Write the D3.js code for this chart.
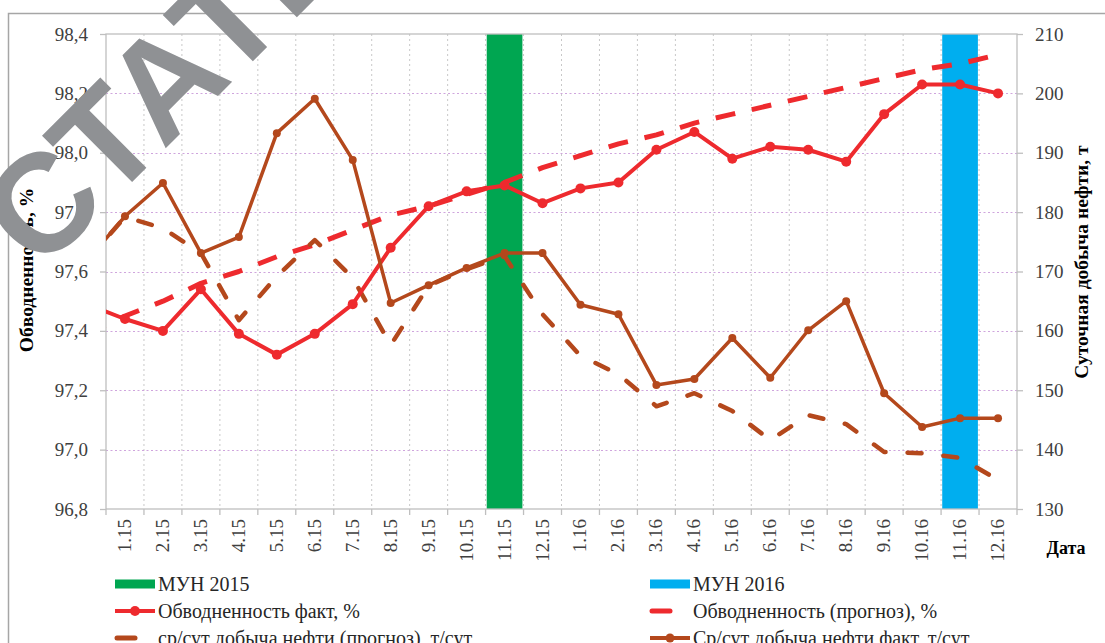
<!DOCTYPE html>
<html>
<head>
<meta charset="utf-8">
<script src="https://cdn.jsdelivr.net/npm/d3@7/dist/d3.min.js"></script>
<style>
  html, body { margin: 0; padding: 0; background: #fff; }
  svg { display: block; }
</style>
</head>
<body>
<svg id="chart" width="1105" height="643"></svg>
<script>
// ---------------- DATA ----------------
const categories = ["1.15","2.15","3.15","4.15","5.15","6.15","7.15","8.15","9.15","10.15","11.15","12.15",
                    "1.16","2.16","3.16","4.16","5.16","6.16","7.16","8.16","9.16","10.16","11.16","12.16"];
// value of the month before the first category (line runs in from the left edge)
const leadCategory = "12.14";

const leftTicks = [96.8, 97.0, 97.2, 97.4, 97.6, 97.8, 98.0, 98.2, 98.4];
const rightTicks = [130, 140, 150, 160, 170, 180, 190, 200, 210];

// МУН bars (secondary axis, full height)
const mun2015 = [null,null,null,null,null,null,null,null,null,null,210,null,
                 null,null,null,null,null,null,null,null,null,null,null,null];
const mun2016 = [null,null,null,null,null,null,null,null,null,null,null,null,
                 null,null,null,null,null,null,null,null,null,null,210,null];

// first value of each line series belongs to leadCategory
const waterFact = [97.49, 97.44, 97.40, 97.54, 97.39, 97.32, 97.39, 97.49, 97.68, 97.82, 97.87, 97.89, 97.83,
                   97.88, 97.90, 98.01, 98.07, 97.98, 98.02, 98.01, 97.97, 98.13, 98.23, 98.23, 98.20];
const waterForecast = [97.39, 97.45, 97.50, 97.56, 97.60, 97.65, 97.69, 97.74, 97.79, 97.82, 97.86, 97.90, 97.95,
                       97.99, 98.03, 98.06, 98.10, 98.13, 98.16, 98.19, 98.22, 98.25, 98.28, 98.30, 98.33];
const oilForecast = [171.8, 179.2, 177.3, 173.1, 161.8, 169.2, 175.3, 168.9, 157.6, 167.6, 170.4, 172.6, 162.8,
                     155.8, 152.7, 147.3, 149.5, 146.5, 141.6, 145.8, 144.3, 139.6, 139.4, 138.6, 134.9];
const oilFact = [171.8, 179.3, 184.9, 173.1, 175.8, 193.3, 199.1, 188.8, 164.7, 167.7, 170.6, 173.1, 173.1,
                 164.4, 162.8, 150.9, 151.9, 158.8, 152.1, 160.1, 165.0, 149.5, 143.8, 145.3, 145.3];

const legendItems = ["МУН 2015", "МУН 2016", "Обводненность факт, %", "Обводненность (прогноз), %",
                     "ср/сут  добыча нефти (прогноз), т/сут", "Ср/сут  добыча нефти факт, т/сут"];
const leftTitle = "Обводненность, %";
const rightTitle = "Суточная добыча нефти, т";
const xTitle = "Дата";
const watermark = "СТАТЬЯ";

// ---------------- STYLE ----------------
const C = {
  red: "#EE2A2E", brown: "#B4481C", green: "#00A651", blue: "#00AEEF",
  axis: "#BFBFBF", vgrid: "#C8C8C8", hgrid: "#CFA5DD", text: "#404040", mark: "#8F9194"
};
const plot = { left: 106, right: 1017, top: 34, bottom: 509 };
const SERIF = '"Liberation Serif", "Times New Roman", Tinos, "DejaVu Serif", serif';

const svg = d3.select("#chart");

// outer chart border
svg.append("rect").attr("x", 8.5).attr("y", 13.5).attr("width", 1200).attr("height", 700)
  .attr("fill", "none").attr("stroke", "#A6A6A6").attr("stroke-width", 1.5);

// ---------------- SCALES ----------------
const x = d3.scaleBand().domain(categories).range([plot.left, plot.right]).paddingInner(0).paddingOuter(0);
const step = x.step();
const cx = c => c === leadCategory ? x(categories[0]) - step / 2 : x(c) + step / 2;
const yL = d3.scaleLinear().domain([96.8, 98.4]).range([plot.bottom, plot.top]);
const yR = d3.scaleLinear().domain([130, 210]).range([plot.bottom, plot.top]);
const lineCats = [leadCategory, ...categories];

svg.append("clipPath").attr("id", "plotclip").append("rect")
  .attr("x", plot.left).attr("y", plot.top - 10).attr("width", plot.right - plot.left).attr("height", plot.bottom - plot.top + 20);

// ---------------- GRID ----------------
const grid = svg.append("g");
grid.selectAll("line.v").data(categories.slice(1)).join("line")
  .attr("x1", d => x(d)).attr("x2", d => x(d)).attr("y1", plot.top).attr("y2", plot.bottom)
  .attr("stroke", C.vgrid).attr("stroke-width", 1).attr("stroke-dasharray", "2,3");
grid.selectAll("line.h").data(leftTicks.slice(1, -1)).join("line")
  .attr("x1", plot.left).attr("x2", plot.right).attr("y1", d => Math.round(yL(d)) + 0.5).attr("y2", d => Math.round(yL(d)) + 0.5)
  .attr("stroke", C.hgrid).attr("stroke-width", 1.2).attr("stroke-dasharray", "2,2.5");

// ---------------- BARS ----------------
const barW = step * 0.94;
function bars(vals, color) {
  svg.append("g").selectAll("rect").data(categories.map((c, i) => ({ c, v: vals[i] })).filter(d => d.v != null))
    .join("rect")
    .attr("x", d => x(d.c) + (step - barW) / 2).attr("width", barW)
    .attr("y", d => yR(d.v)).attr("height", d => yR(130) - yR(d.v))
    .attr("fill", color);
}
bars(mun2015, C.green);
bars(mun2016, C.blue);

// ---------------- AXES ----------------
svg.append("rect").attr("x", plot.left).attr("y", plot.top).attr("width", plot.right - plot.left).attr("height", plot.bottom - plot.top)
  .attr("fill", "none").attr("stroke", C.axis).attr("stroke-width", 1.3);

const leftAxis = d3.axisLeft(yL).tickValues(leftTicks).tickSize(6).tickPadding(12)
  .tickFormat(d => d3.format(".1f")(d).replace(".", ","));
const gl = svg.append("g").attr("transform", `translate(${plot.left},0)`).call(leftAxis);
gl.select(".domain").remove();
gl.selectAll(".tick line").attr("stroke", C.axis).attr("stroke-width", 1.3);
gl.selectAll(".tick text").style("font-family", SERIF).style("font-size", "19px").attr("fill", C.text);

const rightAxis = d3.axisRight(yR).tickValues(rightTicks).tickSize(6).tickPadding(12).tickFormat(d3.format("d"));
const gr = svg.append("g").attr("transform", `translate(${plot.right},0)`).call(rightAxis);
gr.select(".domain").remove();
gr.selectAll(".tick line").attr("stroke", C.axis).attr("stroke-width", 1.3);
gr.selectAll(".tick text").style("font-family", SERIF).style("font-size", "19px").attr("fill", C.text);

// x ticks at band boundaries
const bounds = [...categories.map(c => x(c)), plot.right];
svg.append("g").selectAll("line").data(bounds).join("line")
  .attr("x1", d => d).attr("x2", d => d).attr("y1", plot.bottom).attr("y2", plot.bottom + 6)
  .attr("stroke", C.axis).attr("stroke-width", 1.3);
svg.append("g").selectAll("text").data(categories).join("text")
  .attr("transform", d => `translate(${x(d) + step / 2 + 6},${plot.bottom + 10}) rotate(-90)`)
  .attr("text-anchor", "end")
  .style("font-family", SERIF).style("font-size", "19px").attr("fill", C.text)
  .text(d => d);

// axis titles
function title(t, tr, anchor) {
  return svg.append("text").attr("transform", tr).attr("text-anchor", anchor)
    .style("font-family", SERIF).style("font-weight", "bold").style("font-size", "19.5px").attr("fill", "#000").text(t);
}
title(leftTitle, "translate(33,270) rotate(-90)", "middle");
title(rightTitle, "translate(1088,262) rotate(-90)", "middle");
svg.append("text").attr("transform", "translate(1066,554)").attr("text-anchor", "middle")
  .style("font-family", SERIF).style("font-weight", "bold").style("font-size", "18px").attr("fill", "#000").text(xTitle);

// ---------------- LINES ----------------
const linesG = svg.append("g").attr("clip-path", "url(#plotclip)");
function drawLine(vals, yScale, color, width, dash, cap, markerR) {
  const pts = lineCats.map((c, i) => [cx(c), yScale(vals[i])]);
  linesG.append("path").attr("d", d3.line()(pts))
    .attr("fill", "none").attr("stroke", color).attr("stroke-width", width)
    .attr("stroke-dasharray", dash).attr("stroke-linecap", cap).attr("stroke-linejoin", "round");
  if (markerR) {
    linesG.append("g").selectAll("circle").data(pts.slice(1)).join("circle")
      .attr("cx", d => d[0]).attr("cy", d => d[1]).attr("r", markerR).attr("fill", color);
  }
}
drawLine(waterForecast, yL, C.red, 5, "20,17", "butt", 0);
drawLine(oilForecast, yR, C.brown, 4.5, "14,22", "round", 0);
drawLine(waterFact, yL, C.red, 4, null, "round", 5);
drawLine(oilFact, yR, C.brown, 3.5, null, "round", 4);

// ---------------- LEGEND ----------------
const lg = svg.append("g");
const cols = [115, 650];
const rows = [584, 611, 638];
function legText(col, row, t) {
  lg.append("text").attr("x", cols[col] + 43).attr("y", rows[row]).attr("dy", "0.35em")
    .style("font-family", SERIF).style("font-size", "20px").attr("fill", "#262626").text(t);
}
lg.append("rect").attr("x", cols[0]).attr("y", rows[0] - 4.5).attr("width", 40).attr("height", 9).attr("fill", C.green);
legText(0, 0, legendItems[0]);
lg.append("rect").attr("x", cols[1]).attr("y", rows[0] - 4.5).attr("width", 40).attr("height", 9).attr("fill", C.blue);
legText(1, 0, legendItems[1]);
lg.append("line").attr("x1", cols[0]).attr("x2", cols[0] + 40).attr("y1", rows[1]).attr("y2", rows[1])
  .attr("stroke", C.red).attr("stroke-width", 4);
lg.append("circle").attr("cx", cols[0] + 20).attr("cy", rows[1]).attr("r", 5).attr("fill", C.red);
legText(0, 1, legendItems[2]);
lg.append("line").attr("x1", cols[1] + 2).attr("x2", cols[1] + 20).attr("y1", rows[1]).attr("y2", rows[1])
  .attr("stroke", C.red).attr("stroke-width", 5).attr("stroke-linecap", "round");
legText(1, 1, legendItems[3]);
lg.append("line").attr("x1", cols[0] + 2).attr("x2", cols[0] + 20).attr("y1", rows[2]).attr("y2", rows[2])
  .attr("stroke", C.brown).attr("stroke-width", 5).attr("stroke-linecap", "round");
legText(0, 2, legendItems[4]);
lg.append("line").attr("x1", cols[1]).attr("x2", cols[1] + 40).attr("y1", rows[2]).attr("y2", rows[2])
  .attr("stroke", C.brown).attr("stroke-width", 4);
lg.append("circle").attr("cx", cols[1] + 20).attr("cy", rows[2]).attr("r", 4.5).attr("fill", C.brown);
legText(1, 2, legendItems[5]);

// ---------------- WATERMARK ----------------
svg.append("text").attr("transform", "translate(40,274) rotate(-45)")
  .style("font-family", '"Liberation Sans", Arial, sans-serif').style("font-weight", "bold").style("font-size", "140px")
  .attr("fill", C.mark).text(watermark);
</script>
</body>
</html>
